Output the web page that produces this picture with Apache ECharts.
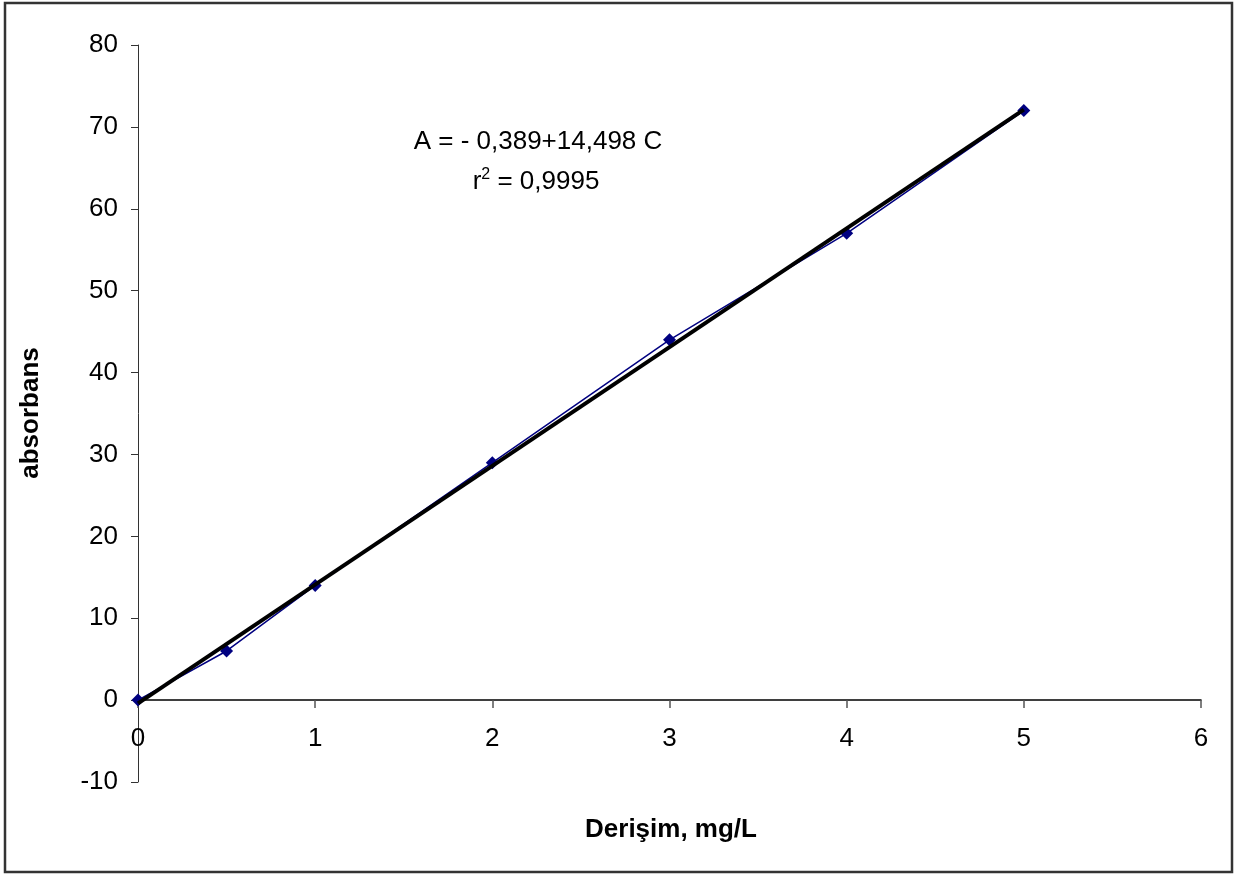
<!DOCTYPE html>
<html>
<head>
<meta charset="utf-8">
<script src="https://cdn.jsdelivr.net/npm/echarts@6/dist/echarts.min.js"></script>
<style>
html,body{margin:0;padding:0;background:#fff;}
#chart{width:1252px;height:875px;}
</style>
</head>
<body>
<div id="chart"></div>
<script>
const concentration = [0, 0.5, 1, 2, 3, 4, 5];
const absorbance = [0, 6, 14, 29, 44, 57, 72];
const trendX = [0, 5];
const trendY = [-0.389, 72.101];
const equationText = 'A = - 0,389+14,498 C';
const r2Text = '0,9995';
const xTitle = 'Derişim, mg/L';
const yTitle = 'absorbans';

const font = '"Liberation Sans", Arial, sans-serif';
const chart = echarts.init(document.getElementById('chart'), null, {renderer: 'canvas'});
chart.setOption({
  animation: false,
  backgroundColor: '#fff',
  grid: {left: 138, right: 51, top: 45, bottom: 93, containLabel: false},
  xAxis: {
    type: 'value', min: 0, max: 6, interval: 1,
    axisLine: {onZero: true, lineStyle: {color: '#000', width: 1.5}},
    axisTick: {show: true, inside: false, length: 8, lineStyle: {color: '#555', width: 1.5}},
    axisLabel: {margin: -56, color: '#000', fontSize: 26, fontFamily: font},
    splitLine: {show: false}
  },
  yAxis: {
    type: 'value', min: -10, max: 80, interval: 10,
    axisLine: {show: true, onZero: false, lineStyle: {color: '#333', width: 1}},
    axisTick: {show: true, inside: false, length: 7, lineStyle: {color: '#333', width: 1}},
    axisLabel: {margin: 20, color: '#000', fontSize: 26, fontFamily: font},
    splitLine: {show: false}
  },
  graphic: [
    {type: 'rect', shape: {x: 5, y: 3, width: 1227, height: 869},
     style: {fill: 'none', stroke: '#333', lineWidth: 2.5}, silent: true},
    {type: 'text', x: 538, y: 142,
     style: {text: equationText, font: '26px ' + font, fill: '#000', align: 'center', verticalAlign: 'middle'}},
    {type: 'text', x: 536, y: 182,
     style: {text: '{b|r}{s|2}{b| = ' + r2Text + '}', font: '26px ' + font, fill: '#000', align: 'center', verticalAlign: 'middle',
       rich: {b: {fontSize: 26, fontFamily: font, fill: '#000'}, s: {fontSize: 16, fontFamily: font, fill: '#000', verticalAlign: 'top', padding: [0,0,14,0]}}}},
    {type: 'text', x: 671, y: 830,
     style: {text: xTitle, font: 'bold 26px ' + font, fill: '#000', align: 'center', verticalAlign: 'middle'}},
    {type: 'text', x: 31, y: 413, rotation: Math.PI / 2,
     style: {text: yTitle, font: 'bold 26px ' + font, fill: '#000', align: 'center', verticalAlign: 'middle'}}
  ],
  series: [
    {
      type: 'line',
      data: concentration.map((x, i) => [x, absorbance[i]]),
      symbol: 'diamond', symbolSize: 13,
      lineStyle: {color: '#000080', width: 1.5},
      itemStyle: {color: '#000080'},
      z: 2
    },
    {
      type: 'line',
      data: trendX.map((x, i) => [x, trendY[i]]),
      symbol: 'none',
      lineStyle: {color: '#000', width: 4},
      z: 3
    }
  ]
});
</script>
</body>
</html>
